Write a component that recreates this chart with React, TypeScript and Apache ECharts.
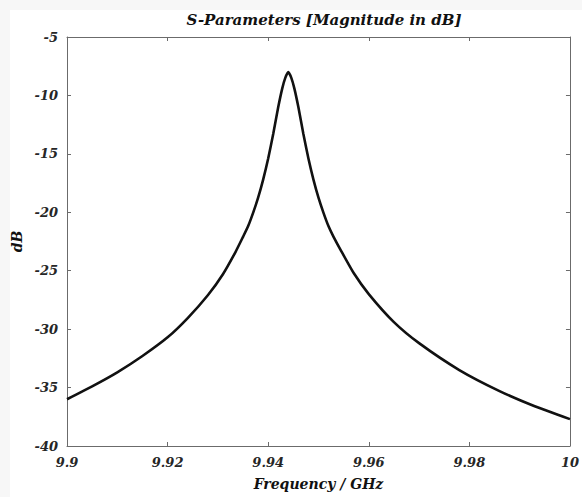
import React, { useEffect, useRef } from "react";
import * as echarts from "echarts";

const freqGHz = [
  9.9, 9.905, 9.91, 9.915, 9.92, 9.924, 9.928, 9.931, 9.9335, 9.935,
  9.936, 9.937, 9.938, 9.939, 9.94, 9.941, 9.942, 9.9428, 9.9434, 9.944,
  9.9446, 9.9452, 9.946, 9.947, 9.948, 9.949, 9.95, 9.951, 9.952, 9.953,
  9.9545, 9.957, 9.96, 9.965, 9.97, 9.978, 9.986, 9.993, 10.0,
];
const magDB = [
  -36.0, -34.9, -33.7, -32.3, -30.7, -29.05, -27.1, -25.3, -23.4, -22.1,
  -21.2, -20.05, -18.75, -17.2, -15.4, -13.3, -11.0, -9.4, -8.5, -8.0,
  -8.5, -9.4, -11.0, -13.3, -15.4, -17.2, -18.75, -20.05, -21.2, -22.1,
  -23.3, -25.2, -27.0, -29.4, -31.2, -33.5, -35.3, -36.6, -37.7,
];
const xTicks = { min: 9.9, max: 10, interval: 0.02 };
const yTicks = { min: -40, max: -5, interval: 5 };
const titleText = "S-Parameters [Magnitude in dB]";
const xName = "Frequency / GHz";
const yName = "dB";

const FONT = "DejaVu Serif";

export default function App() {
  const ref = useRef<HTMLDivElement>(null);
  useEffect(() => {
    document.body.style.margin = "0";
    const chart = echarts.init(ref.current!, undefined, { renderer: "svg" });
    const labelStyle = {
      fontFamily: FONT,
      fontWeight: "bold" as const,
      fontStyle: "italic" as const,
      fontSize: 13,
      color: "#262626",
    };
    const axisLine = { show: true, lineStyle: { color: "#6b6b6b", width: 1 } };
    const tick = { show: true, inside: true, length: 4, lineStyle: { color: "#6b6b6b" } };
    const fmtX = (v: number) => String(parseFloat(v.toFixed(3)));
    chart.setOption({
      animation: false,
      backgroundColor: "#f7f7f7",
      graphic: [
        {
          type: "rect",
          shape: { x: 10, y: 10, width: 572, height: 487 },
          style: { fill: "#ffffff" },
          silent: true,
          z: -10,
        },
      ],
      title: {
        text: titleText,
        left: 319,
        top: 7,
        textAlign: "center",
        textStyle: {
          fontFamily: FONT,
          fontWeight: "bold",
          fontStyle: "italic",
          fontSize: 15,
          color: "#111",
        },
      },
      grid: { left: 67, right: 11, top: 37, bottom: 51, containLabel: false },
      xAxis: [
        {
          type: "value",
          min: xTicks.min,
          max: xTicks.max,
          interval: xTicks.interval,
          position: "bottom",
          axisLine,
          axisTick: tick,
          splitLine: { show: false },
          axisLabel: { ...labelStyle, margin: 10, formatter: fmtX },
          name: xName,
          nameLocation: "middle",
          nameGap: 31,
          nameTextStyle: { ...labelStyle, fontSize: 14, color: "#111" },
        },
        {
          type: "value",
          min: xTicks.min,
          max: xTicks.max,
          interval: xTicks.interval,
          position: "top",
          axisLine,
          axisTick: tick,
          splitLine: { show: false },
          axisLabel: { show: false },
        },
      ],
      yAxis: [
        {
          type: "value",
          min: yTicks.min,
          max: yTicks.max,
          interval: yTicks.interval,
          position: "left",
          axisLine,
          axisTick: tick,
          splitLine: { show: false },
          axisLabel: { ...labelStyle, margin: 9 },
          name: yName,
          nameLocation: "middle",
          nameGap: 40,
          nameTextStyle: { ...labelStyle, fontSize: 14, color: "#111" },
        },
        {
          type: "value",
          min: yTicks.min,
          max: yTicks.max,
          interval: yTicks.interval,
          position: "right",
          axisLine,
          axisTick: tick,
          splitLine: { show: false },
          axisLabel: { show: false },
        },
      ],
      series: [
        {
          type: "line",
          xAxisIndex: 0,
          yAxisIndex: 0,
          data: freqGHz.map((f, i) => [f, magDB[i]]),
          showSymbol: false,
          smooth: 0.2,
          lineStyle: { color: "#111111", width: 2.6 },
        },
      ],
    });
    return () => chart.dispose();
  }, []);
  return (
    <div
      ref={ref}
      style={{ position: "absolute", left: 0, top: 0, width: 582, height: 497 }}
    />
  );
}
